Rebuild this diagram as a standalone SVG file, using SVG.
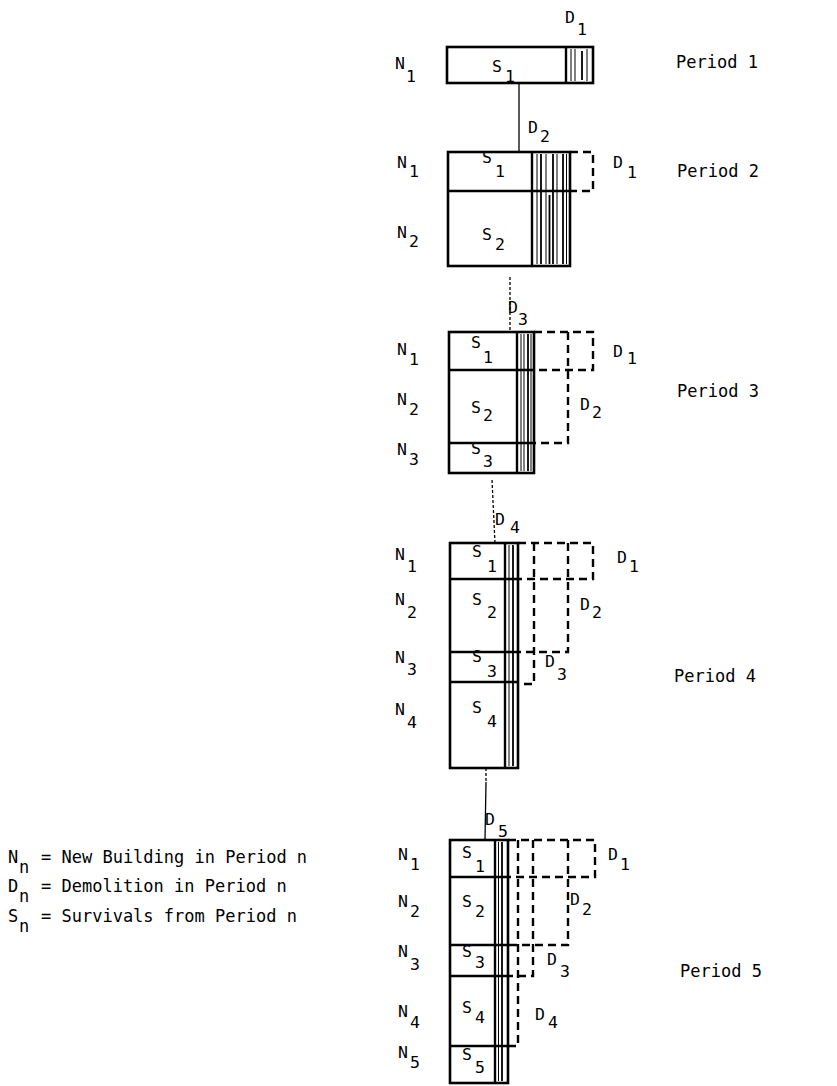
<svg xmlns="http://www.w3.org/2000/svg" width="837" height="1086" viewBox="0 0 837 1086">
  <defs>
    <style>
      .bg { fill: #ffffff; }
      .box { fill: none; stroke: #000; stroke-width: 2.6; }
      .div { stroke: #000; stroke-width: 2.4; fill: none; }
      .h1 { stroke: #000; stroke-width: 1; }
      .h2 { stroke: #000; stroke-width: 1.8; }
      .dash { fill: none; stroke: #000; stroke-width: 2.4; stroke-dasharray: 8 5; }
      .conn { fill: none; stroke: #000; stroke-width: 1.3; }
      .conn-dot { fill: none; stroke: #000; stroke-width: 1.3; stroke-dasharray: 3 2; }
      .lb { font-family: "DejaVu Sans Mono", "Liberation Mono", monospace; font-size: 16.5px; fill: #000; }
      .tx { font-family: "DejaVu Sans Mono", "Liberation Mono", monospace; font-size: 17px; fill: #000; }
    </style>
  </defs>
  <rect class="bg" x="0" y="0" width="837" height="1086"/>

  <!-- links between the period stacks -->
  <g id="connectors">
    <line class="conn" x1="519" y1="83" x2="519" y2="152"/>
    <line class="conn-dot" x1="510" y1="277" x2="510" y2="332"/>
    <line class="conn-dot" x1="492" y1="480" x2="495" y2="543"/>
    <line class="conn-dot" x1="486" y1="768" x2="486" y2="782"/>
    <line class="conn" x1="486" y1="782" x2="485" y2="840"/>
  </g>

  <!-- Period 1 -->
  <g id="period1">
    <rect class="box" x="447" y="47" width="146" height="36"/>
    <line class="div" x1="566" y1="47" x2="566" y2="83"/>
    <line class="h1" x1="571" y1="49" x2="571" y2="81"/>
    <line class="h1" x1="575" y1="49" x2="575" y2="81"/>
    <line class="h2" x1="582" y1="51" x2="582" y2="80"/>
    <line class="h1" x1="587" y1="49" x2="587" y2="81"/>
    <text class="lb" x="565" y="23">D</text><text class="lb" x="577" y="35">1</text>
    <text class="lb" x="395" y="69">N</text><text class="lb" x="406" y="82">1</text>
    <text class="lb" x="492" y="72">S</text><text class="lb" x="505" y="82">1</text>
    <text class="tx" x="676" y="68">Period 1</text>
  </g>

  <!-- Period 2 -->
  <g id="period2">
    <rect class="box" x="448" y="152" width="122" height="114"/>
    <line class="div" x1="448" y1="191" x2="570" y2="191"/>
    <line class="div" x1="532" y1="152" x2="532" y2="266"/>
    <line class="h1" x1="537" y1="154" x2="537" y2="264"/>
    <line class="h2" x1="541" y1="154" x2="541" y2="264"/>
    <line class="h1" x1="546" y1="154" x2="546" y2="264"/>
    <line class="h2" x1="549.5" y1="195" x2="549.5" y2="264"/>
    <line class="h2" x1="553" y1="154" x2="553" y2="264"/>
    <line class="h1" x1="557" y1="154" x2="557" y2="264"/>
    <line class="h2" x1="563" y1="154" x2="563" y2="264"/>
    <line class="h1" x1="566.5" y1="154" x2="566.5" y2="264"/>
    <path class="dash" d="M570,152 H593 V191 H570"/>
    <text class="lb" x="528" y="133">D</text><text class="lb" x="540" y="142">2</text>
    <text class="lb" x="397" y="168">N</text><text class="lb" x="409" y="177">1</text>
    <text class="lb" x="397" y="238">N</text><text class="lb" x="409" y="247">2</text>
    <text class="lb" x="482" y="163">S</text><text class="lb" x="495" y="177">1</text>
    <text class="lb" x="482" y="240">S</text><text class="lb" x="495" y="250">2</text>
    <text class="lb" x="613" y="168">D</text><text class="lb" x="627" y="178">1</text>
    <text class="tx" x="677" y="177">Period 2</text>
  </g>

  <!-- Period 3 -->
  <g id="period3">
    <rect class="box" x="449" y="332" width="85" height="141"/>
    <line class="div" x1="449" y1="370" x2="534" y2="370"/>
    <line class="div" x1="449" y1="443" x2="534" y2="443"/>
    <line class="div" x1="517" y1="332" x2="517" y2="473"/>
    <line class="h1" x1="521" y1="334" x2="521" y2="471"/>
    <line class="h1" x1="524" y1="334" x2="524" y2="471"/>
    <line class="h2" x1="528" y1="334" x2="528" y2="471"/>
    <line class="h1" x1="531" y1="334" x2="531" y2="471"/>
    <path class="dash" d="M534,332 H593 V370 H534"/>
    <path class="dash" d="M568,332 V443 H534"/>
    <text class="lb" x="508" y="313">D</text><text class="lb" x="518" y="325">3</text>
    <text class="lb" x="397" y="355">N</text><text class="lb" x="409" y="365">1</text>
    <text class="lb" x="397" y="405">N</text><text class="lb" x="409" y="415">2</text>
    <text class="lb" x="397" y="455">N</text><text class="lb" x="409" y="465">3</text>
    <text class="lb" x="471" y="348">S</text><text class="lb" x="483" y="363">1</text>
    <text class="lb" x="471" y="413">S</text><text class="lb" x="483" y="421">2</text>
    <text class="lb" x="471" y="454">S</text><text class="lb" x="483" y="467">3</text>
    <text class="lb" x="613" y="357">D</text><text class="lb" x="627" y="364">1</text>
    <text class="lb" x="580" y="410">D</text><text class="lb" x="592" y="418">2</text>
    <text class="tx" x="677" y="397">Period 3</text>
  </g>

  <!-- Period 4 -->
  <g id="period4">
    <rect class="box" x="450" y="543" width="68" height="225"/>
    <line class="div" x1="450" y1="579" x2="518" y2="579"/>
    <line class="div" x1="450" y1="652" x2="518" y2="652"/>
    <line class="div" x1="450" y1="682" x2="518" y2="682"/>
    <line class="div" x1="505" y1="543" x2="505" y2="768"/>
    <line class="h1" x1="509" y1="545" x2="509" y2="766"/>
    <line class="h2" x1="513" y1="545" x2="513" y2="766"/>
    <path class="dash" d="M518,543 H593 V579 H518"/>
    <path class="dash" d="M568,543 V652 H518"/>
    <path class="dash" d="M534,543 V684 H518"/>
    <text class="lb" x="495" y="525">D</text><text class="lb" x="510" y="533">4</text>
    <text class="lb" x="395" y="560">N</text><text class="lb" x="407" y="572">1</text>
    <text class="lb" x="395" y="605">N</text><text class="lb" x="407" y="618">2</text>
    <text class="lb" x="395" y="663">N</text><text class="lb" x="407" y="675">3</text>
    <text class="lb" x="395" y="715">N</text><text class="lb" x="407" y="728">4</text>
    <text class="lb" x="472" y="557">S</text><text class="lb" x="487" y="572">1</text>
    <text class="lb" x="472" y="605">S</text><text class="lb" x="487" y="618">2</text>
    <text class="lb" x="472" y="662">S</text><text class="lb" x="487" y="677">3</text>
    <text class="lb" x="472" y="713">S</text><text class="lb" x="487" y="727">4</text>
    <text class="lb" x="617" y="563">D</text><text class="lb" x="629" y="572">1</text>
    <text class="lb" x="580" y="610">D</text><text class="lb" x="592" y="618">2</text>
    <text class="lb" x="545" y="667">D</text><text class="lb" x="557" y="680">3</text>
    <text class="tx" x="674" y="682">Period 4</text>
  </g>

  <!-- Period 5 -->
  <g id="period5">
    <rect class="box" x="450" y="840" width="58" height="243"/>
    <line class="div" x1="450" y1="877" x2="508" y2="877"/>
    <line class="div" x1="450" y1="945" x2="508" y2="945"/>
    <line class="div" x1="450" y1="976" x2="508" y2="976"/>
    <line class="div" x1="450" y1="1046" x2="508" y2="1046"/>
    <line class="div" x1="495" y1="840" x2="495" y2="1083"/>
    <line class="h1" x1="498.5" y1="842" x2="498.5" y2="1081"/>
    <line class="h2" x1="502" y1="842" x2="502" y2="1081"/>
    <path class="dash" d="M508,840 H595 V877 H508"/>
    <path class="dash" d="M568,840 V945 H508"/>
    <path class="dash" d="M533,840 V976 H508"/>
    <path class="dash" d="M518,840 V1046 H508"/>
    <text class="lb" x="485" y="825">D</text><text class="lb" x="498" y="837">5</text>
    <text class="lb" x="398" y="860">N</text><text class="lb" x="410" y="870">1</text>
    <text class="lb" x="398" y="907">N</text><text class="lb" x="410" y="917">2</text>
    <text class="lb" x="398" y="957">N</text><text class="lb" x="410" y="970">3</text>
    <text class="lb" x="398" y="1017">N</text><text class="lb" x="410" y="1028">4</text>
    <text class="lb" x="398" y="1058">N</text><text class="lb" x="410" y="1068">5</text>
    <text class="lb" x="462" y="858">S</text><text class="lb" x="475" y="872">1</text>
    <text class="lb" x="462" y="907">S</text><text class="lb" x="475" y="917">2</text>
    <text class="lb" x="462" y="957">S</text><text class="lb" x="475" y="968">3</text>
    <text class="lb" x="462" y="1013">S</text><text class="lb" x="475" y="1023">4</text>
    <text class="lb" x="462" y="1060">S</text><text class="lb" x="475" y="1073">5</text>
    <text class="lb" x="608" y="860">D</text><text class="lb" x="620" y="870">1</text>
    <text class="lb" x="570" y="905">D</text><text class="lb" x="582" y="915">2</text>
    <text class="lb" x="547" y="965">D</text><text class="lb" x="560" y="977">3</text>
    <text class="lb" x="535" y="1020">D</text><text class="lb" x="548" y="1028">4</text>
    <text class="tx" x="680" y="977">Period 5</text>
  </g>

  <!-- key -->
  <g id="legend">
    <text class="tx" x="8" y="863">N</text><text class="tx" x="19" y="873">n</text>
    <text class="tx" x="41" y="863">= New Building in Period n</text>
    <text class="tx" x="8" y="892">D</text><text class="tx" x="19" y="902">n</text>
    <text class="tx" x="41" y="892">= Demolition in Period n</text>
    <text class="tx" x="8" y="922">S</text><text class="tx" x="19" y="932">n</text>
    <text class="tx" x="41" y="922">= Survivals from Period n</text>
  </g>
</svg>
